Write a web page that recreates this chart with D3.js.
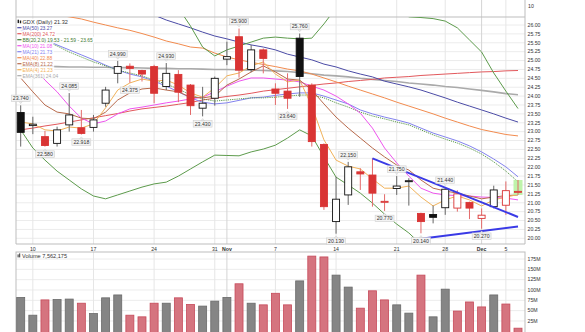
<!DOCTYPE html>
<html><head><meta charset="utf-8">
<script src="https://cdn.jsdelivr.net/npm/d3@7"></script>
<style>
body{margin:0;background:#fff}
svg{display:block;font-family:"Liberation Sans",Arial,sans-serif}
</style>
</head><body>
<svg id="c" width="585" height="332"></svg>
<script>
// GDX daily, 7 Oct - 6 Dec
const dates = ["2016-10-07","2016-10-10","2016-10-11","2016-10-12","2016-10-13","2016-10-14",
  "2016-10-17","2016-10-18","2016-10-19","2016-10-20","2016-10-21",
  "2016-10-24","2016-10-25","2016-10-26","2016-10-27","2016-10-28",
  "2016-10-31","2016-11-01","2016-11-02","2016-11-03","2016-11-04",
  "2016-11-07","2016-11-08","2016-11-09","2016-11-10","2016-11-11",
  "2016-11-14","2016-11-15","2016-11-16","2016-11-17","2016-11-18",
  "2016-11-21","2016-11-22","2016-11-23","2016-11-25",
  "2016-11-28","2016-11-29","2016-11-30","2016-12-01","2016-12-02",
  "2016-12-05","2016-12-06"];
const open  = [23.54,23.17,22.86,22.67,23.19,23.11,23.12,23.80,24.64,24.84,24.72,24.83,24.27,24.61,24.31,23.66,23.94,25.04,25.67,24.75,25.30,24.20,24.14,25.63,24.31,22.64,20.47,21.22,21.87,21.78,21.02,21.40,21.61,20.70,20.67,20.86,20.85,21.01,20.56,20.89,20.93,21.31];
const high  = [23.74,23.42,23.02,23.14,24.085,23.61,23.47,24.26,24.99,24.92,24.74,24.88,24.93,24.73,24.34,24.26,24.55,25.53,25.90,25.44,25.34,24.36,24.64,25.76,24.36,22.67,21.73,22.15,21.97,22.25,21.24,21.75,21.69,20.72,20.92,21.44,21.35,21.03,20.84,21.48,21.60,21.64];
const low   = [22.58,22.93,22.58,22.58,23.00,22.918,23.00,23.70,24.36,24.375,24.41,23.80,24.17,23.83,23.47,23.43,23.73,24.87,24.52,24.67,24.64,23.75,23.64,23.98,22.58,20.80,20.13,20.94,21.36,20.89,20.77,21.22,20.92,20.14,20.42,20.66,20.75,20.54,20.27,20.84,20.66,21.22];
const close = [22.98,23.21,22.61,23.05,23.47,22.95,23.33,24.17,24.83,24.78,24.62,24.08,24.64,24.11,23.73,23.80,24.50,25.11,24.73,25.30,25.06,24.08,23.94,24.55,22.72,20.89,21.10,22.01,21.81,21.27,21.04,21.47,21.62,20.47,20.59,21.38,21.25,20.85,20.65,21.36,21.34,21.32];
// volume, millions of shares
const volume = [82,39,76,77,78,68,43,81,88,39,35,68,68,81,65,61,73,82,115,68,64,92,64,122,182,180,136,107,56,98,76,64,44,136,35,102,49,71,59,88,66,7.562175];

// overlays (null = not on the chart)
const N = null;
const ma50  = [N,N,N,N,N,N,N,N,N,N,N,26.28,26.14,26.03,25.92,25.80,25.69,25.61,25.52,25.44,25.38,25.30,25.18,25.10,25.02,24.90,24.82,24.71,24.62,24.54,24.42,24.34,24.26,24.17,24.06,23.95,23.83,23.72,23.61,23.50,23.38,23.27];
const ma200 = [23.05,23.10,23.16,23.21,23.27,23.33,23.39,23.45,23.51,23.58,23.64,23.68,23.72,23.77,23.82,23.89,23.94,23.99,24.03,24.08,24.14,24.18,24.22,24.26,24.30,24.34,24.37,24.41,24.44,24.47,24.51,24.53,24.55,24.58,24.60,24.62,24.64,24.66,24.68,24.69,24.71,24.72];
const bbUpper = [N,N,N,N,N,N,N,N,N,N,N,N,27.00,26.48,25.97,25.38,25.13,25.30,25.41,25.52,25.63,25.66,25.63,25.61,25.63,26.03,26.48,26.90,27.10,27.10,26.90,26.50,26.23,26.21,26.18,26.11,25.92,25.58,25.24,24.65,24.14,23.65];
const bbMid = [25.83,25.69,25.55,25.41,25.24,25.10,24.96,24.85,24.73,24.65,24.57,24.45,24.34,24.20,24.03,23.92,23.86,23.89,23.92,23.95,23.95,23.97,24.00,24.03,24.03,23.95,23.81,23.69,23.55,23.44,23.36,23.27,23.19,23.05,22.91,22.79,22.68,22.54,22.37,22.15,21.89,21.59];
const bbLower = [23.05,22.54,22.20,21.89,21.64,21.39,21.19,21.11,21.22,21.33,21.44,21.53,21.58,21.75,21.95,22.15,22.34,22.33,22.32,22.43,22.51,22.62,22.82,23.05,22.88,22.29,21.72,21.50,21.27,20.99,20.68,20.40,20.15,19.83,19.65,19.55,19.50,19.48,19.47,19.48,19.50,19.53];
const ma10  = [25.20,24.85,24.45,24.12,23.72,23.38,23.22,23.30,23.50,23.64,23.69,23.75,23.81,23.86,23.92,23.97,24.12,24.28,24.42,24.51,24.51,24.48,24.45,24.40,24.28,24.17,24.00,23.78,23.52,23.10,22.54,22.12,21.75,21.41,21.27,21.22,21.20,21.19,21.16,21.15,21.13,21.08];
const ma21  = [25.86,25.72,25.58,25.44,25.30,25.16,25.02,24.87,24.73,24.62,24.54,24.42,24.28,24.12,23.95,23.83,23.78,23.81,23.88,23.95,23.97,24.02,24.06,24.09,24.09,24.00,23.89,23.78,23.61,23.50,23.41,23.33,23.24,23.10,22.96,22.85,22.74,22.60,22.43,22.23,22.01,21.73];
const ma40  = [N,N,26.45,26.28,26.23,26.17,26.08,26.00,25.92,25.85,25.76,25.66,25.55,25.47,25.38,25.35,25.21,25.10,25.02,24.95,24.89,24.83,24.76,24.71,24.62,24.51,24.40,24.28,24.17,24.06,23.95,23.83,23.72,23.61,23.50,23.38,23.27,23.16,23.06,22.99,22.92,22.88];
const ema8  = [24.51,24.12,23.75,23.55,23.50,23.38,23.36,23.55,23.89,24.09,24.20,24.23,24.17,24.12,23.97,23.95,24.00,24.31,24.48,24.68,24.85,24.68,24.48,24.45,24.17,23.78,23.41,23.10,22.82,22.54,22.29,22.06,21.92,21.64,21.41,21.33,21.27,21.19,21.11,21.16,21.20,21.22];
const ema4  = [23.27,23.22,23.05,23.02,23.13,23.10,23.22,23.67,24.17,24.37,24.48,24.42,24.45,24.31,24.09,23.97,24.23,24.57,24.65,24.85,24.96,24.62,24.40,24.45,23.72,22.77,22.20,22.03,21.95,21.67,21.41,21.41,21.47,21.16,20.91,21.08,21.19,21.08,20.91,21.08,21.16,21.23];
const ema361 = [24.85,24.84,24.84,24.83,24.82,24.82,24.81,24.81,24.80,24.80,24.79,24.78,24.78,24.77,24.77,24.76,24.75,24.75,24.74,24.73,24.72,24.71,24.69,24.66,24.63,24.59,24.57,24.54,24.50,24.47,24.44,24.41,24.37,24.34,24.31,24.27,24.24,24.20,24.16,24.12,24.07,24.04];

// hand-drawn trend lines: [date index, price]
const trendDown = [[29,22.25],[41,20.60]];
const trendUp   = [[33,19.99],[41,20.33]];

// bars whose high / low get a value tag
const tagHigh = [0,4,8,12,18,23,27,31,35];
const tagLow  = [2,5,9,15,22,26,30,33,38];

// axis ticks
const priceTicks = d3.range(20, 26.001, 0.25);
const volTicks = [25,50,75,100,125,150,175];
const dayTicks = [[1,"10"],[6,"17"],[11,"24"],[16,"31"],[21,"7"],[26,"14"],[31,"21"],[35,"28"],[40,"5"]];
const monthTicks = [[17,"Nov"],[38,"Dec"]];

// ---------- layout ----------
const L = 16, R = 525, PT = 17, PB = 244, VT = 252, VB = 332;
const svg = d3.select("#c");
const x = d3.scalePoint().domain(dates).range([20.7, 518]);
const y = d3.scaleLinear().domain([20, 26]).range([238.3, 25]);
const yv = d3.scaleLinear().domain([0, 175]).range([331.3, 259]);

const defs = svg.append("defs");
defs.append("clipPath").attr("id","pc").append("rect").attr("x",L).attr("y",PT).attr("width",R-L).attr("height",PB-PT);
defs.append("clipPath").attr("id","vc").append("rect").attr("x",L).attr("y",VT).attr("width",R-L).attr("height",VB-VT);

// ---------- grid ----------
const grid = svg.append("g");
grid.selectAll(".hg").data(priceTicks).join("line")
  .attr("x1",L).attr("x2",R).attr("y1",d=>y(d)).attr("y2",d=>y(d))
  .attr("stroke","#ececec").attr("stroke-width",1);
grid.selectAll(".vg").data(volTicks).join("line")
  .attr("x1",L).attr("x2",R).attr("y1",d=>yv(d)).attr("y2",d=>yv(d))
  .attr("stroke","#ececec");

const vlines = dayTicks.map(d=>({i:d[0],m:false})).concat(monthTicks.map(d=>({i:d[0],m:true})));
vlines.forEach(v=>{
  [[0,PB],[VT,VB]].forEach(([a,b])=>{
    grid.append("line").attr("x1",x(dates[v.i])).attr("x2",x(dates[v.i]))
      .attr("y1",a).attr("y2",b)
      .attr("stroke", v.m ? "#d4d4d4" : "#e6e6e6").attr("stroke-width",1);
  });
});

// panel frames
const frame = svg.append("g").attr("fill","none").attr("stroke","#bdbdbd").attr("stroke-width",1);
frame.append("line").attr("x1",L).attr("x2",L).attr("y1",0).attr("y2",PB);
frame.append("line").attr("x1",R).attr("x2",R).attr("y1",0).attr("y2",PB);
frame.append("line").attr("x1",L).attr("x2",R).attr("y1",PT).attr("y2",PT);
frame.append("line").attr("x1",L).attr("x2",R).attr("y1",PB).attr("y2",PB);
frame.append("rect").attr("x",L).attr("y",VT).attr("width",R-L).attr("height",VB-VT+2);

// ---------- overlay lines ----------
const plot = svg.append("g").attr("clip-path","url(#pc)");
const line = d3.line().defined(d=>d[1]!=null).x(d=>x(dates[d[0]])).y(d=>y(d[1]));
function drawSeries(arr, color, w, dash){
  plot.append("path").datum(arr.map((v,i)=>[i,v]))
    .attr("d", line).attr("fill","none").attr("stroke",color)
    .attr("stroke-width",w).attr("stroke-dasharray",dash||null)
    .attr("stroke-linejoin","round");
}
const C = {
  ma50:"#4b4ba6", ma200:"#e2585c", bb:"#5d9b4c", ma10:"#ee55ee", ma21:"#8383ee",
  ma40:"#f28b4e", ema8:"#b86a4c", ema4:"#f1b25a", ema361:"#aaaaaa"
};
drawSeries(ema361, C.ema361, 1.6);
drawSeries(ma200, C.ma200, 1);
drawSeries(ma50, C.ma50, 1);
drawSeries(ma40, C.ma40, 1);
drawSeries(bbUpper, C.bb, 1);
drawSeries(bbLower, C.bb, 1);
drawSeries(ma21, C.ma21, 1);
drawSeries(bbMid, C.bb, 1, "1.2,1");
drawSeries(ma10, C.ma10, 1);
drawSeries(ema8, C.ema8, 1);
drawSeries(ema4, C.ema4, 1);

// ---------- candles ----------
const candles = plot.append("g");
const bw = 7;
// latest bar highlight
candles.append("rect")
  .attr("x", x(dates[41]) - 4.5).attr("width", 9)
  .attr("y", y(high[41])).attr("height", y(low[41]) - y(high[41]))
  .attr("fill","#b4f29c").attr("opacity",0.85);
dates.forEach((d,i)=>{
  const up = i===0 ? true : close[i] >= close[i-1];
  const hollow = close[i] > open[i];
  const col = up ? "#111" : "#d93434";
  const cx = x(d);
  candles.append("line").attr("x1",cx).attr("x2",cx)
    .attr("y1",y(high[i])).attr("y2",y(low[i]))
    .attr("stroke", up ? "#666" : "#e36a6a").attr("stroke-width",1);
  const top = y(Math.max(open[i],close[i])), bot = y(Math.min(open[i],close[i]));
  const h = Math.max(bot-top, 1);
  candles.append("rect").attr("x",cx-bw/2).attr("y",top).attr("width",bw).attr("height",h)
    .attr("fill", hollow ? "#fff" : col)
    .attr("stroke", col).attr("stroke-width", 0.9);
});

// trend lines
[trendDown, trendUp].forEach(t=>{
  plot.append("line")
    .attr("x1",x(dates[t[0][0]])).attr("y1",y(t[0][1]))
    .attr("x2",x(dates[t[1][0]])).attr("y2",y(t[1][1]))
    .attr("stroke","#3a3ae6").attr("stroke-width",2);
});

// value tags
const fmt3 = d3.format(".3f");
function tag(i, v, above){
  const g = svg.append("g");
  const cx = x(dates[i]);
  const cy = above ? y(v) - 7 : y(v) + 7.5;
  const t = g.append("text").attr("x",cx).attr("y",cy+1.8).attr("text-anchor","middle")
    .attr("font-size",5.2).attr("fill","#333").text(fmt3(v));
  const w = t.node().getComputedTextLength() + 3;
  const bh = 6.5;
  g.insert("rect","text").attr("x",cx-w/2).attr("y",cy-bh/2).attr("width",w).attr("height",bh)
    .attr("fill","#f3f3f3").attr("stroke","#cfcfcf").attr("stroke-width",0.6);
  const py = above ? cy + bh/2 : cy - bh/2;
  const dy = above ? 2 : -2;
  g.insert("path","text").attr("d",`M${cx-1.6},${py}L${cx},${py+dy}L${cx+1.6},${py}Z`)
    .attr("fill","#f3f3f3").attr("stroke","#cfcfcf").attr("stroke-width",0.6);
}
tagHigh.forEach(i=>tag(i, high[i], true));
tagLow.forEach(i=>tag(i, low[i], false));

// ---------- legend ----------
const f2 = d3.format(".2f");
const last = a => a[a.length-1];
const legendRows = [
  {t:`GDX (Daily) ${f2(last(close))}`, c:"#222", title:true},
  {t:`MA(50) ${f2(last(ma50))}`, c:C.ma50},
  {t:`MA(200) ${f2(last(ma200))}`, c:C.ma200},
  {t:`BB(20,2.0) ${f2(last(bbLower))} - ${f2(last(bbMid))} - ${f2(last(bbUpper))}`, c:"#3f7a32"},
  {t:`MA(10) ${f2(last(ma10))}`, c:C.ma10},
  {t:`MA(21) ${f2(last(ma21))}`, c:C.ma21},
  {t:`MA(40) ${f2(last(ma40))}`, c:C.ma40},
  {t:`EMA(8) ${f2(last(ema8))}`, c:C.ema8},
  {t:`EMA(4) ${f2(last(ema4))}`, c:C.ema4},
  {t:`EMA(361) ${f2(last(ema361))}`, c:C.ema361}
];
const lg = svg.append("g");
legendRows.forEach((r,k)=>{
  const cy = 21.7 + 6*k;
  const g = lg.append("g");
  const t = g.append("text").attr("x",22.5).attr("y",cy+1.8)
    .attr("font-size", r.title ? 5.6 : 4.9).attr("fill", r.title ? "#333" : r.c).text(r.t);
  const w = t.node().getComputedTextLength();
  g.insert("rect","text").attr("x",17).attr("y",cy-3).attr("width",w+7).attr("height",6)
    .attr("fill","#fff").attr("opacity",0.92);
  if (r.title){
    g.append("rect").attr("x",17.6).attr("y",cy-2).attr("width",1.4).attr("height",3.4).attr("fill","#222");
    g.append("rect").attr("x",19.8).attr("y",cy-1.2).attr("width",1.4).attr("height",2.8).attr("fill","#222");
  } else {
    g.append("line").attr("x1",17.3).attr("x2",21.5).attr("y1",cy).attr("y2",cy)
      .attr("stroke",r.c).attr("stroke-width",1.2);
  }
});

// ---------- volume ----------
const vol = svg.append("g").attr("clip-path","url(#vc)");
dates.forEach((d,i)=>{
  const up = i===0 ? true : close[i] >= close[i-1];
  vol.append("rect").attr("x",x(d)-4).attr("width",8)
    .attr("y",yv(volume[i])).attr("height",yv(0)-yv(volume[i])+2)
    .attr("fill", up ? "#858585" : "#d5747f")
    .attr("stroke", up ? "#6a6a6a" : "#c64a5a").attr("stroke-width",0.8);
});
const vlab = svg.append("g");
vlab.append("rect").attr("x",17.6).attr("y",254.4).attr("width",1).attr("height",3).attr("fill","#333");
vlab.append("rect").attr("x",19.2).attr("y",253.4).attr("width",1).attr("height",4).attr("fill","#333");
vlab.append("text").attr("x",22).attr("y",258).attr("font-size",5.6).attr("fill","#333")
  .text(`Volume ${d3.format(",")(Math.round(last(volume)*1e6))}`);

// ---------- axes ----------
const ax = svg.append("g").attr("font-size",5.2).attr("fill","#333");
priceTicks.forEach(t=>{
  ax.append("text").attr("x",527.5).attr("y",y(t)+1.8).text(t.toFixed(2));
});
volTicks.forEach(t=>{
  ax.append("text").attr("x",527.5).attr("y",yv(t)+1.8).text(t+"M");
});
ax.append("text").attr("x",528).attr("y",8).text("10");

// date labels
const xl = svg.append("g").attr("font-size",5.2).attr("fill","#333").attr("text-anchor","middle");
dayTicks.forEach(([i,t])=>{
  xl.append("text").attr("x",x(dates[i])).attr("y",250.8).text(t);
});
monthTicks.forEach(([i,t])=>{
  xl.append("text").attr("x",x(dates[i])).attr("y",250.8).attr("font-weight","bold").text(t);
});
</script>
</body></html>
